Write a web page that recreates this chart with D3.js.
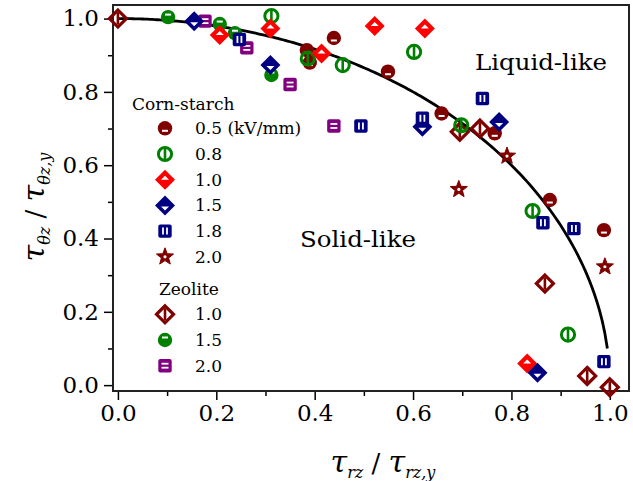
<!DOCTYPE html>
<html>
<head>
<meta charset="utf-8">
<script src="https://cdn.jsdelivr.net/npm/d3@7"></script>
<style>
  body { margin: 0; background: #fff; }
  text { font-family: 'DejaVu Serif', serif; }
</style>
</head>
<body>
<svg width="633" height="481"></svg>
<script>
// data, [x, y] = [tau_rz / tau_rz,y , tau_thetaz / tau_thetaz,y]
const corn05 = [[0.439, 0.947], [0.384, 0.914], [0.39, 0.88], [0.549, 0.855], [0.658, 0.741],
  [0.766, 0.687], [0.878, 0.505], [0.988, 0.423]];
const corn08 = [[0.312, 1.007], [0.386, 0.891], [0.457, 0.873], [0.602, 0.909], [0.698, 0.709],
  [0.843, 0.475], [0.915, 0.138]];
const corn10 = [[0.207, 0.955], [0.31, 0.973], [0.414, 0.905], [0.522, 0.98], [0.624, 0.973], [0.832, 0.059]];
const corn15 = [[0.155, 0.993], [0.31, 0.873], [0.619, 0.705], [0.775, 0.718], [0.853, 0.034]];
const corn18 = [[0.247, 0.943], [0.494, 0.707], [0.619, 0.728], [0.741, 0.782], [0.864, 0.443],
  [0.927, 0.427], [0.988, 0.064]];
const corn20 = [[0.693, 0.534], [0.791, 0.625], [0.99, 0.323]];
const zeo10 = [[0.0, 1.0], [0.695, 0.691], [0.736, 0.7], [0.868, 0.277], [0.954, 0.025], [1.0, -0.006]];
const zeo15 = [[0.102, 1.004], [0.207, 0.985], [0.238, 0.96], [0.312, 0.846]];
const zeo20 = [[0.177, 0.993], [0.262, 0.92], [0.35, 0.82], [0.439, 0.707]];

const xTicks = [0, 0.2, 0.4, 0.6, 0.8, 1.0];
const yTicks = [0, 0.2, 0.4, 0.6, 0.8, 1.0];
const minorTicks = [0.1, 0.3, 0.5, 0.7, 0.9];

// yield curve: unit circle x^2 + y^2 = 1
const curveEnd = 0.995;

const svg = d3.select('svg');
const x = d3.scaleLinear().domain([-0.01, 1.039]).range([113, 629]);
const y = d3.scaleLinear().domain([-0.016, 1.037]).range([391, 5]);

const darkRed = '#800000', green = '#008000', red = '#ff0000', navy = '#000080', purple = '#800080';

// marker drawing functions, each gets a <g> already translated to the point
const markers = {
  c05: g => {
    g.append('circle').attr('r', 7.2).attr('fill', darkRed);
    g.append('line').attr('x1', -3).attr('x2', 3).attr('y1', 2.5).attr('y2', 2.5)
      .attr('stroke', '#fff').attr('stroke-width', 2);
  },
  c08: g => {
    g.append('circle').attr('r', 6.6).attr('fill', 'none').attr('stroke', green).attr('stroke-width', 3);
    g.append('line').attr('y1', -6).attr('y2', 6).attr('stroke', green).attr('stroke-width', 2.6);
  },
  c10: g => {
    g.append('path').attr('d', 'M0,-10L10,0L0,10L-10,0Z').attr('fill', red);
    g.append('path').attr('d', 'M-4,0L4,0L0,-4Z').attr('fill', '#fff');
  },
  c15: g => {
    g.append('path').attr('d', 'M0,-10L10,0L0,10L-10,0Z').attr('fill', navy);
    g.append('path').attr('d', 'M-4,1L4,1L0,5Z').attr('fill', '#fff');
  },
  c18: g => {
    g.append('rect').attr('x', -6.7).attr('y', -6.7).attr('width', 13.4).attr('height', 13.4)
      .attr('rx', 2).attr('fill', navy);
    [-2, 2].forEach(dx => g.append('line').attr('x1', dx).attr('x2', dx).attr('y1', -3.5).attr('y2', 3.5)
      .attr('stroke', '#fff').attr('stroke-width', 1.8));
  },
  c20: g => {
    const pts = d3.range(10).map(i => {
      const a = -Math.PI / 2 + i * Math.PI / 5, r = i % 2 ? 3.8 : 9;
      return [r * Math.cos(a), r * Math.sin(a)];
    });
    g.append('path').attr('d', d3.line()(pts) + 'Z').attr('fill', darkRed)
      .attr('stroke', darkRed).attr('stroke-width', 1).attr('stroke-linejoin', 'round');
    g.append('circle').attr('r', 1.6).attr('fill', '#fff');
  },
  z10: g => {
    g.append('path').attr('d', 'M0,-8.5L8.5,0L0,8.5L-8.5,0Z').attr('fill', 'none')
      .attr('stroke', darkRed).attr('stroke-width', 3.2);
    g.append('line').attr('y1', -6).attr('y2', 6).attr('stroke', darkRed).attr('stroke-width', 2.6);
  },
  z15: g => {
    g.append('circle').attr('r', 7.2).attr('fill', green);
    g.append('line').attr('x1', -3).attr('x2', 3).attr('y1', -2.5).attr('y2', -2.5)
      .attr('stroke', '#fff').attr('stroke-width', 2);
  },
  z20: g => {
    g.append('rect').attr('x', -6.7).attr('y', -6.7).attr('width', 13.4).attr('height', 13.4)
      .attr('rx', 2).attr('fill', purple);
    [-2, 2].forEach(dy => g.append('line').attr('x1', -3.5).attr('x2', 3.5).attr('y1', dy).attr('y2', dy)
      .attr('stroke', '#fff').attr('stroke-width', 1.8));
  }
};

// axes
const axisFont = g => g.selectAll('text').attr('font-size', 23).attr('fill', '#000')
  .attr('font-family', "'DejaVu Serif', serif");

svg.append('g').attr('transform', 'translate(0,391)')
  .call(d3.axisBottom(x).tickValues(minorTicks).tickSize(5).tickFormat(''))
  .call(g => g.select('.domain').remove())
  .selectAll('line').attr('stroke-width', 1.5);
svg.append('g').attr('transform', 'translate(0,391)')
  .call(d3.axisBottom(x).tickValues(xTicks).tickSize(9).tickPadding(5).tickFormat(d3.format('.1f')))
  .call(g => g.select('.domain').remove())
  .call(axisFont)
  .selectAll('line').attr('stroke-width', 1.5);

svg.append('g').attr('transform', 'translate(113,0)')
  .call(d3.axisLeft(y).tickValues(minorTicks).tickSize(5).tickFormat(''))
  .call(g => g.select('.domain').remove())
  .selectAll('line').attr('stroke-width', 1.5);
svg.append('g').attr('transform', 'translate(113,0)')
  .call(d3.axisLeft(y).tickValues(yTicks).tickSize(9).tickPadding(5).tickFormat(d3.format('.1f')))
  .call(g => g.select('.domain').remove())
  .call(axisFont)
  .selectAll('line').attr('stroke-width', 1.5);

svg.append('rect').attr('x', 113).attr('y', 5).attr('width', 516).attr('height', 386)
  .attr('fill', 'none').attr('stroke', '#222').attr('stroke-width', 2);

// yield curve
const circlePts = d3.range(0, curveEnd, 0.005).concat([curveEnd]).map(v => [v, Math.sqrt(1 - v * v)]);
svg.append('path')
  .attr('d', d3.line().x(d => x(d[0])).y(d => y(d[1]))(circlePts))
  .attr('fill', 'none').attr('stroke', '#000').attr('stroke-width', 2.8);

// points (zeolite first, corn-starch on top)
const series = [
  [zeo10, 'z10'], [zeo15, 'z15'], [zeo20, 'z20'],
  [corn05, 'c05'], [corn08, 'c08'], [corn10, 'c10'], [corn15, 'c15'], [corn18, 'c18'], [corn20, 'c20']
];
series.forEach(([data, key]) => {
  svg.append('g').selectAll('g').data(data).enter().append('g')
    .attr('transform', d => `translate(${x(d[0])},${y(d[1])})`)
    .each(function() { markers[key](d3.select(this)); });
});

// legend
const legendLabels = ['0.5', '0.8', '1.0', '1.5', '1.8', '2.0'];
const legendKeys = ['c05', 'c08', 'c10', 'c15', 'c18', 'c20'];
const zeoLabels = ['1.0', '1.5', '2.0'];
const zeoKeys = ['z10', 'z15', 'z20'];

svg.append('text').attr('x', 132).attr('y', 110).attr('font-size', 17).text('Corn-starch');
legendKeys.forEach((k, i) => {
  const yy = 128.3 + i * 25.7;
  markers[k](svg.append('g').attr('transform', `translate(165,${yy})`));
  svg.append('text').attr('x', 195).attr('y', yy + 6).attr('font-size', 17)
    .text(legendLabels[i] + (i === 0 ? ' (kV/mm)' : ''));
});
svg.append('text').attr('x', 159).attr('y', 295).attr('font-size', 17).text('Zeolite');
zeoKeys.forEach((k, i) => {
  const yy = 314.3 + i * 25.7;
  markers[k](svg.append('g').attr('transform', `translate(165,${yy})`));
  svg.append('text').attr('x', 195).attr('y', yy + 6).attr('font-size', 17).text(zeoLabels[i]);
});

// region labels
svg.append('text').attr('x', 475).attr('y', 70).attr('font-size', 23)
  .attr('textLength', 132).attr('lengthAdjust', 'spacingAndGlyphs').text('Liquid-like');
svg.append('text').attr('x', 300).attr('y', 247).attr('font-size', 23)
  .attr('textLength', 116).attr('lengthAdjust', 'spacingAndGlyphs').text('Solid-like');

// axis titles
const xt = svg.append('text').attr('x', 383).attr('y', 472).attr('text-anchor', 'middle')
  .attr('font-style', 'italic');
xt.append('tspan').attr('font-size', 30).text('τ');
xt.append('tspan').attr('font-size', 16).attr('dy', 6).text('rz');
xt.append('tspan').attr('font-size', 26).attr('dy', -6).attr('font-style', 'normal').text(' / ');
xt.append('tspan').attr('font-size', 30).text('τ');
xt.append('tspan').attr('font-size', 16).attr('dy', 6).text('rz,y');

const yt = svg.append('text').attr('transform', 'translate(44,207) rotate(-90)')
  .attr('text-anchor', 'middle').attr('font-style', 'italic');
yt.append('tspan').attr('font-size', 30).text('τ');
yt.append('tspan').attr('font-size', 16).attr('dy', 6).text('θz');
yt.append('tspan').attr('font-size', 26).attr('dy', -6).attr('font-style', 'normal').text(' / ');
yt.append('tspan').attr('font-size', 30).text('τ');
yt.append('tspan').attr('font-size', 16).attr('dy', 6).text('θz,y');
</script>
</body>
</html>
